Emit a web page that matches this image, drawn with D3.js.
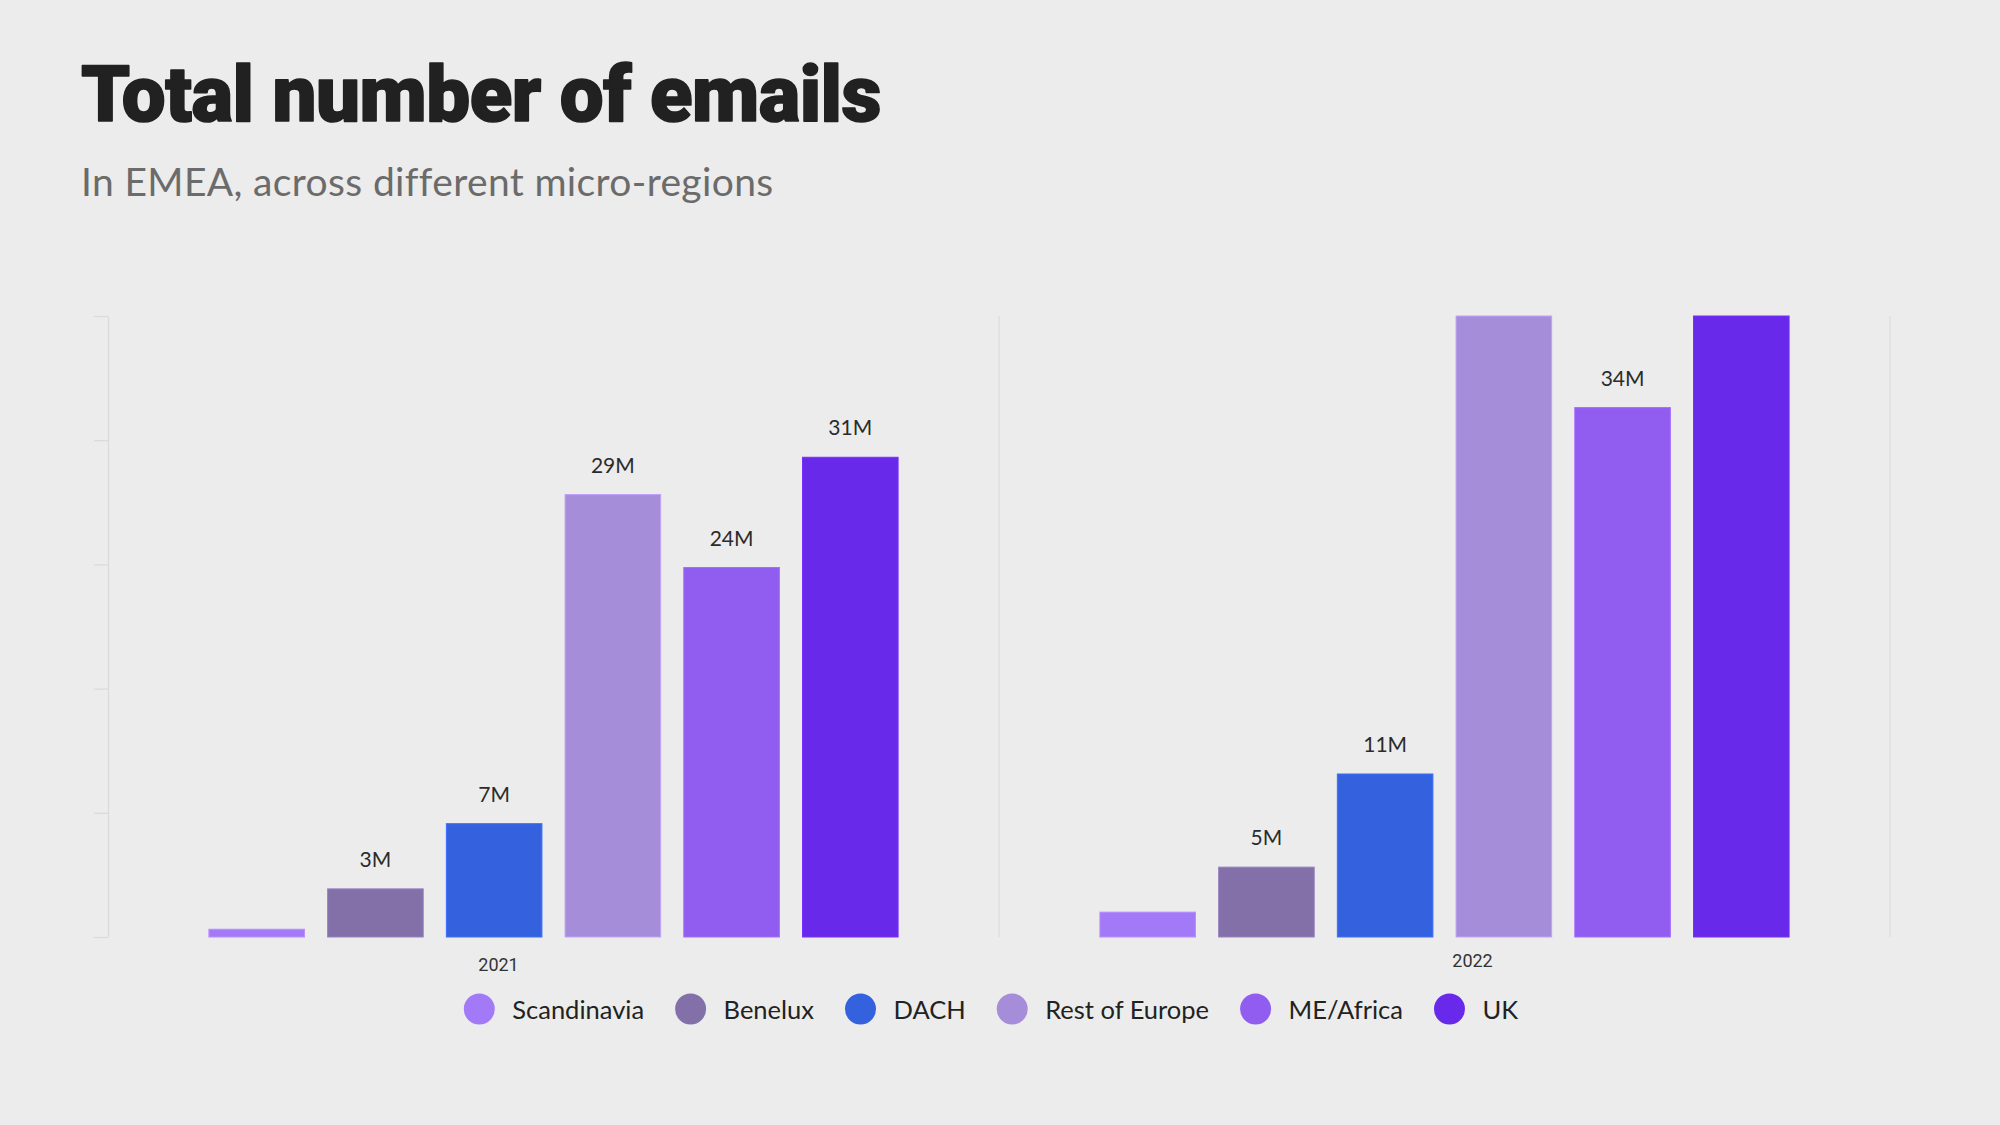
<!DOCTYPE html>
<html><head><meta charset="utf-8">
<script src="https://cdn.jsdelivr.net/npm/d3@7"></script>
<style>
html,body{margin:0;padding:0;background:#ececec;}
svg{display:block;}
</style></head><body>
<svg id="chart" width="2000" height="1125"></svg>
<script>
// ---- data ----
const years = ["2021", "2022"];
const regions = ["Scandinavia", "Benelux", "DACH", "Rest of Europe", "ME/Africa", "UK"];
const regionColors = ["#a27af8", "#8370a8", "#3461de", "#a68dd9", "#915df0", "#6829ea"];
const values2021 = [0.5, 3.1, 7.3, 28.5, 23.8, 30.9];
const values2022 = [1.6, 4.5, 10.5, 43, 34.1, 46];
const yTicks = [0, 8, 16, 24, 32, 40];
const yearLabelShift = [[-55, 4], [28, 0]];
const titleText = "Total number of emails";
const subtitleText = "In EMEA, across different micro-regions";

// ---- layout ----
const plot = { left: 108, right: 1890, top: 316, bottom: 937 };
const svg = d3.select("#chart");

const x0 = d3.scaleBand().domain(years).range([plot.left, plot.right]).padding(0);
const x1 = d3.scaleBand().domain(regions).range([0, x0.bandwidth()])
  .paddingInner(0.195).paddingOuter(0.85);
const y = d3.scaleLinear().domain([0, 40]).range([plot.bottom, plot.top]).clamp(true);
const color = d3.scaleOrdinal().domain(regions).range(regionColors);
const seriesByYear = [values2021, values2022];

function fitWidth(sel, target) {
  const node = sel.node();
  const w = node.getComputedTextLength();
  const n = sel.text().length;
  sel.attr("letter-spacing", ((target - w) / n).toFixed(2));
}

// title
const title = svg.append("text").attr("x", 81).attr("y", 121)
  .style("font-family", "Roboto, Inter, sans-serif").style("font-weight", 900)
  .style("font-size", "78px").attr("fill", "#212121")
  .attr("stroke", "#212121").attr("stroke-width", 1.6).attr("stroke-linejoin", "round")
  .text(titleText);
fitWidth(title, 800);

const sub = svg.append("text").attr("x", 81).attr("y", 196)
  .style("font-family", "Lato, 'Open Sans', sans-serif").style("font-weight", 400)
  .style("font-size", "39px").attr("fill", "#6b6b6b").text(subtitleText);
fitWidth(sub, 691);

// axis
const axis = svg.append("g").attr("transform", `translate(${plot.left},0)`)
  .call(d3.axisLeft(y).tickValues(yTicks).tickFormat("").tickSize(14).tickSizeOuter(0));
axis.select(".domain").attr("stroke", "#dadada").attr("stroke-width", 1.2);
axis.selectAll(".tick line").attr("stroke", "#dadada").attr("stroke-width", 1.2);

// group separators
svg.append("g").selectAll("line").data(years).join("line")
  .attr("x1", d => x0(d) + x0.bandwidth()).attr("x2", d => x0(d) + x0.bandwidth())
  .attr("y1", plot.top).attr("y2", plot.bottom)
  .attr("stroke", "#dcdcdc").attr("stroke-width", 1.2);

// bars
const groups = svg.append("g").selectAll("g").data(years).join("g")
  .attr("transform", d => `translate(${x0(d)},0)`);

groups.each(function(year, yi) {
  const data = regions.map((r, i) => ({ r, v: seriesByYear[yi][i] }));
  const g = d3.select(this);
  g.selectAll("rect").data(data).join("rect")
    .attr("x", d => x1(d.r)).attr("width", x1.bandwidth())
    .attr("y", d => y(d.v)).attr("height", d => y(0) - y(d.v))
    .attr("fill", d => color(d.r))
    .attr("stroke", d => d3.color(color(d.r)).brighter(0.4))
    .attr("stroke-width", 1);
  g.selectAll("text.val").data(data.filter(d => d.v >= 2 && d.v <= y.domain()[1]))
    .join("text").attr("class", "val")
    .attr("x", d => x1(d.r) + x1.bandwidth() / 2).attr("y", d => y(d.v) - 22)
    .attr("text-anchor", "middle")
    .style("font-family", "Lato, 'Open Sans', sans-serif").style("font-size", "21px")
    .attr("fill", "#2b2b2b").text(d => Math.round(d.v) + "M");
});

// year labels
svg.append("g").selectAll("text").data(years).join("text")
  .attr("x", (d, i) => x0(d) + x0.bandwidth() / 2 + yearLabelShift[i][0])
  .attr("y", (d, i) => plot.bottom + 30 + yearLabelShift[i][1])
  .attr("text-anchor", "middle")
  .style("font-family", "Roboto, sans-serif").style("font-size", "18px")
  .attr("fill", "#333").text(d => d);

// legend
const legend = svg.append("g");
let cx = 0;
const r = 15.5;
regions.forEach((reg, i) => {
  const it = legend.append("g");
  it.append("circle").attr("cx", cx).attr("cy", 0).attr("r", r).attr("fill", color(reg));
  const t = it.append("text").attr("x", cx + 33).attr("y", 9.5)
    .style("font-family", "Lato, 'Open Sans', sans-serif").style("font-size", "25.5px")
    .attr("fill", "#222").text(reg);
  const w = t.node().getComputedTextLength();
  cx = cx + 33 + w + 31 + r;
});
const bb = legend.node().getBBox();
legend.attr("transform", `translate(${991 - (bb.x + bb.width / 2)},1009)`);
</script>
</body></html>
